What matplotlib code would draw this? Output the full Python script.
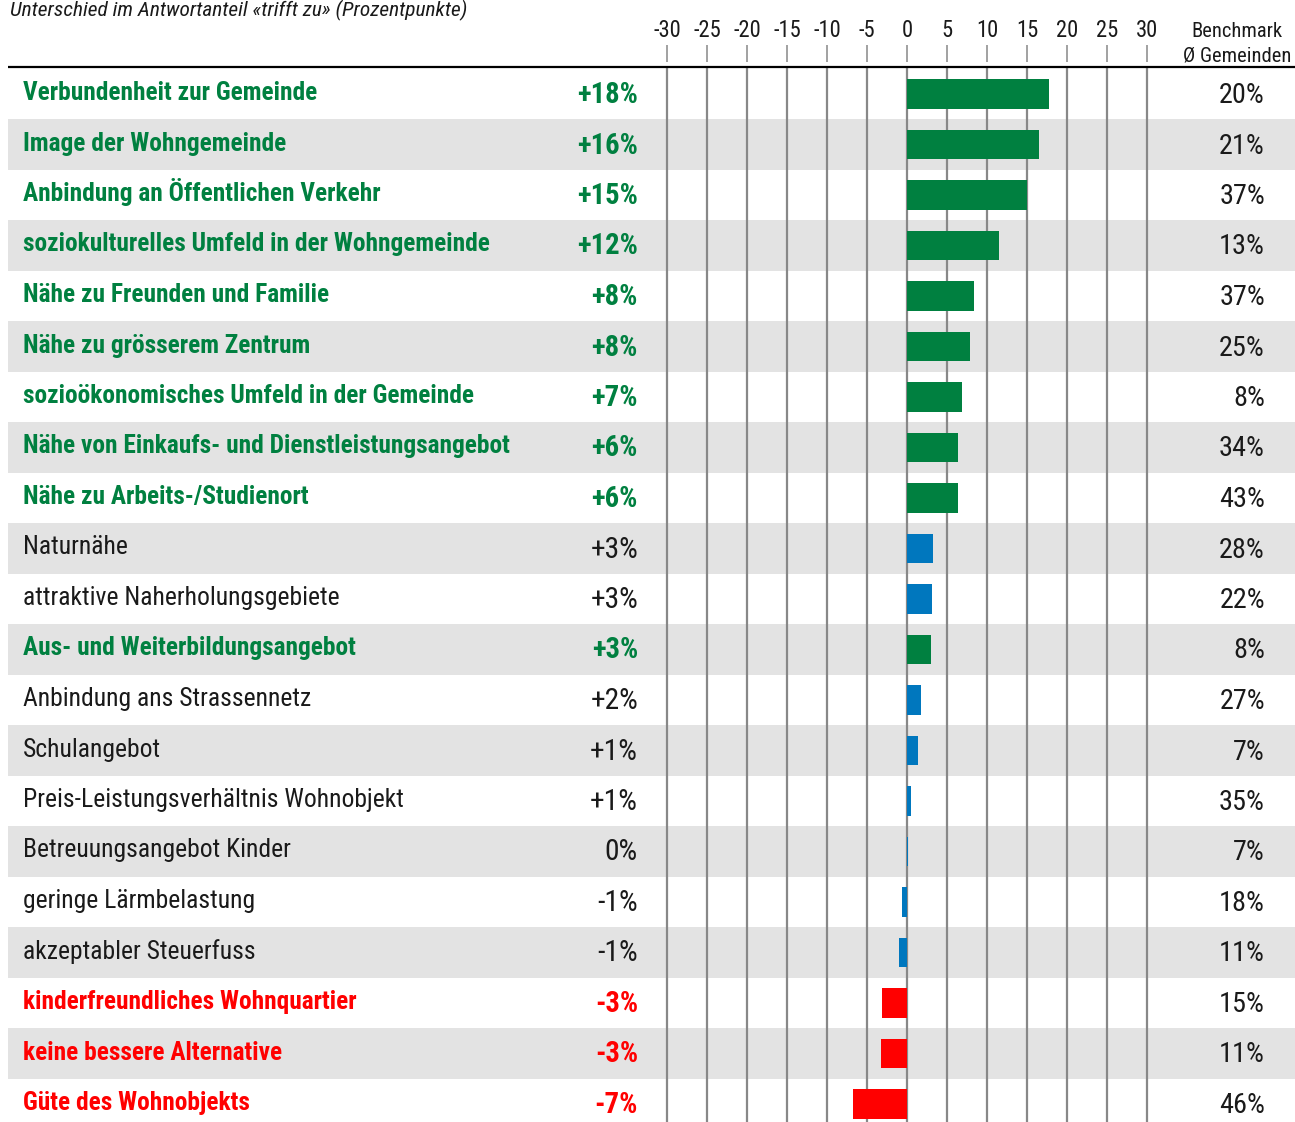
import matplotlib
matplotlib.use("Agg")
import matplotlib.pyplot as plt
from matplotlib import font_manager
from matplotlib.font_manager import FontProperties

# Data
labels = [
    "Verbundenheit zur Gemeinde",
    "Image der Wohngemeinde",
    "Anbindung an Öffentlichen Verkehr",
    "soziokulturelles Umfeld in der Wohngemeinde",
    "Nähe zu Freunden und Familie",
    "Nähe zu grösserem Zentrum",
    "sozioökonomisches Umfeld in der Gemeinde",
    "Nähe von Einkaufs- und Dienstleistungsangebot",
    "Nähe zu Arbeits-/Studienort",
    "Naturnähe",
    "attraktive Naherholungsgebiete",
    "Aus- und Weiterbildungsangebot",
    "Anbindung ans Strassennetz",
    "Schulangebot",
    "Preis-Leistungsverhältnis Wohnobjekt",
    "Betreuungsangebot Kinder",
    "geringe Lärmbelastung",
    "akzeptabler Steuerfuss",
    "kinderfreundliches Wohnquartier",
    "keine bessere Alternative",
    "Güte des Wohnobjekts",
]
diffs = [17.75, 16.5, 15.0, 11.5, 8.4, 7.9, 6.9, 6.4, 6.4, 3.25, 3.1, 3.0,
         1.75, 1.4, 0.5, 0.1, -0.6, -1.0, -3.1, -3.25, -6.75]
diff_labels = ["+18%", "+16%", "+15%", "+12%", "+8%", "+8%", "+7%", "+6%", "+6%",
               "+3%", "+3%", "+3%", "+2%", "+1%", "+1%", "0%", "-1%", "-1%",
               "-3%", "-3%", "-7%"]
benchmark = ["20%", "21%", "37%", "13%", "37%", "25%", "8%", "34%", "43%", "28%",
             "22%", "8%", "27%", "7%", "35%", "7%", "18%", "11%", "15%", "11%", "46%"]
groups = ["pos"] * 9 + ["neu", "neu", "pos"] + ["neu"] * 6 + ["neg"] * 3
ticks = [-30, -25, -20, -15, -10, -5, 0, 5, 10, 15, 20, 25, 30]

bar_colors = {"pos": "#008040", "neu": "#0077BE", "neg": "#FF0000"}
text_colors = {"pos": "#008040", "neu": "#1a1a1a", "neg": "#FF0000"}


def _w(entry):
    w = entry.weight
    if isinstance(w, str):
        return 700 if "bold" in w.lower() else 400
    return w


def pick_font(bold=False, italic=False):
    """Find a narrow/condensed font file; fall back to DejaVu Sans."""
    prefs = ["Liberation Sans Narrow", "Roboto Condensed", "Open Sans Condensed",
             "Noto Sans Condensed", "DejaVu Sans Condensed"]
    cands = []
    for e in font_manager.fontManager.ttflist:
        narrow = e.name in prefs or (e.name == "DejaVu Sans" and "condensed" in str(e.stretch).lower())
        if not narrow:
            continue
        is_bold = _w(e) >= 600
        is_it = e.style in ("italic", "oblique")
        if is_bold == bold and is_it == italic:
            rank = prefs.index(e.name) if e.name in prefs else len(prefs)
            cands.append((rank, abs(_w(e) - (700 if bold else 400)), e.fname))
    if cands:
        cands.sort()
        return FontProperties(fname=cands[0][2])
    return FontProperties(family="DejaVu Sans", weight="bold" if bold else "normal",
                          style="italic" if italic else "normal")


fp_reg = pick_font()
fp_bold = pick_font(bold=True)
fp_it = pick_font(italic=True)

W, H = 1295, 1122
fig = plt.figure(figsize=(W / 100, H / 100), dpi=100)
ax = fig.add_axes([0, 0, 1, 1])
renderer = fig.canvas.get_renderer()

# pixel -> data helpers (0 at x=907px, 8 px per percentage point; rows 50.5 px apart)
X0, PX = 907, 8.0
Y0, ROW = 94, 50.5
def dx(px):
    return (px - X0) / PX
def dy(py):
    return (py - Y0) / ROW

ax.set_xlim(dx(0), dx(W))
ax.set_ylim(dy(H), dy(0))
ax.axis("off")


def fit_size(s, fp, target_px, base=19):
    """Font size so that string s is about target_px wide."""
    t = ax.text(0, 0, s, fontproperties=fp, fontsize=base)
    w = t.get_window_extent(renderer).width
    t.remove()
    return base * target_px / w


size_bold = min(20, fit_size("Nähe von Einkaufs- und Dienstleistungsangebot", fp_bold, 486, 20))
size_reg = min(20, fit_size("Preis-Leistungsverhältnis Wohnobjekt", fp_reg, 380, 20))
size_val_bold = fit_size("+18%", fp_bold, 61, 20)
size_val_reg = fit_size("+3%", fp_reg, 48, 20)
size_bench = fit_size("20%", fp_reg, 46, 20)
size_title = min(16, fit_size("Unterschied im Antwortanteil «trifft zu» (Prozentpunkte)", fp_it, 458, 16))
size_head = fit_size("Ø Gemeinden", fp_reg, 109, 16)
size_tick = fit_size("-30", fp_reg, 28, 16)

n = len(labels)
rows = list(range(n))

# alternating stripes
for i in rows:
    if i % 2 == 1:
        ax.axhspan(i - 0.5, i + 0.5, xmin=8 / W, xmax=1.0, color="#E3E3E3", lw=0, zorder=0)

# grid lines
ax.vlines(ticks, dy(68), dy(H), color="#888888", lw=1.6, zorder=1)
ax.vlines(ticks, dy(45), dy(62), color="#888888", lw=1.1, zorder=1)
# header rule
ax.hlines(dy(67), dx(8), dx(W), color="black", lw=1.6, zorder=3)

# bars
ax.barh(rows, diffs, height=0.575, color=[bar_colors[g] for g in groups], lw=0, zorder=2)

# tick labels
for t in ticks:
    ax.text(t, dy(37), str(t), ha="center", va="baseline", fontproperties=fp_reg,
            fontsize=size_tick, color="#1a1a1a")

ax.text(dx(1237), dy(37), "Benchmark", ha="center", va="baseline", fontproperties=fp_reg,
        fontsize=size_head, color="#1a1a1a")
ax.text(dx(1237), dy(61), "Ø Gemeinden", ha="center", va="baseline", fontproperties=fp_reg,
        fontsize=size_head, color="#1a1a1a")

ax.text(dx(10), dy(16), "Unterschied im Antwortanteil «trifft zu» (Prozentpunkte)",
        ha="left", va="baseline", fontproperties=fp_it, fontsize=size_title, color="#1a1a1a")

# row texts
lab_off = 6.0 / ROW
val_off = 9.0 / ROW
for i, (lab, dl, bm, g) in enumerate(zip(labels, diff_labels, benchmark, groups)):
    c = text_colors[g]
    if g == "neu":
        fp, fs, vs = fp_reg, size_reg, size_val_reg
    else:
        fp, fs, vs = fp_bold, size_bold, size_val_bold
    ax.text(dx(23), i + lab_off, lab, ha="left", va="baseline", fontproperties=fp,
            fontsize=fs, color=c)
    ax.text(dx(638), i + val_off, dl, ha="right", va="baseline", fontproperties=fp,
            fontsize=vs, color=c)
    ax.text(dx(1265), i + val_off, bm, ha="right", va="baseline", fontproperties=fp_reg,
            fontsize=size_bench, color="#1a1a1a")

fig.savefig("out.png", dpi=100)
